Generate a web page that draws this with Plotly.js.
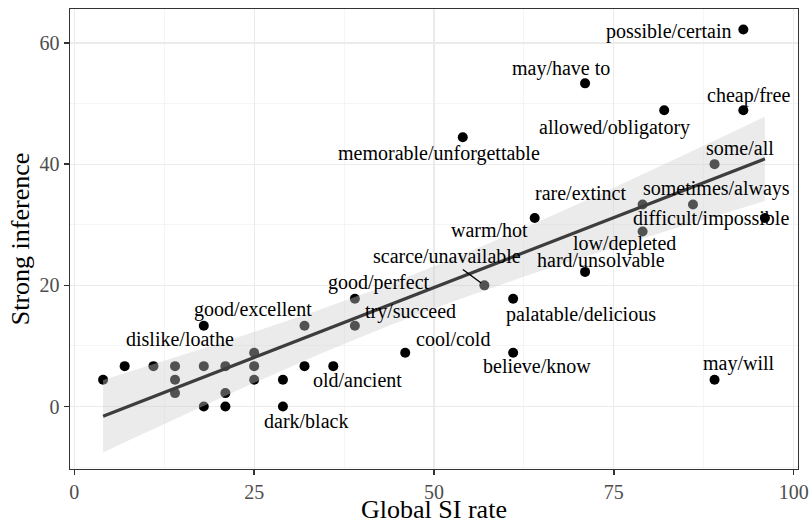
<!DOCTYPE html>
<html>
<head>
<meta charset="utf-8">
<script src="https://cdn.plot.ly/plotly-3.0.1.min.js"></script>
<style>html,body{margin:0;padding:0;background:#fff;}#chart{width:809px;height:524px;}</style>
</head>
<body>
<div id="chart"></div>
<script>
// Global SI rate (x) and Strong inference (y) per scale
const siRate = [4, 7, 11, 14, 14, 14, 18, 18, 18, 21, 21, 21, 25, 25, 25, 29, 29, 32, 32, 36,
  39, 39, 46, 54, 57, 61, 61, 64, 71, 71, 79, 79, 82, 86, 89, 89, 93, 93, 96];
const strongInf = [4.44, 6.67, 6.67, 6.67, 4.44, 2.22, 13.33, 6.67, 0, 6.67, 2.22, 0, 8.89, 6.67, 4.44, 4.44, 0, 13.33, 6.67, 6.67,
  17.78, 13.33, 8.89, 44.44, 20, 17.78, 8.89, 31.11, 53.33, 22.22, 33.33, 28.89, 48.89, 33.33, 40, 4.44, 62.22, 48.89, 31.11];
const scaleNames = ["", "", "dislike/loathe", "", "", "", "good/excellent", "", "", "", "", "", "", "", "", "", "dark/black", "", "", "old/ancient",
  "good/perfect", "try/succeed", "cool/cold", "memorable/unforgettable", "scarce/unavailable", "palatable/delicious", "believe/know", "warm/hot", "may/have to", "hard/unsolvable",
  "rare/extinct", "low/depleted", "allowed/obligatory", "sometimes/always", "some/all", "may/will", "possible/certain", "cheap/free", "difficult/impossible"];
const xTicks = [0, 25, 50, 75, 100];
const yTicks = [0, 20, 40, 60];

// label offsets in pixels (right, down) relative to each point, as placed by the repel layout
const labelDx = [0, 0, 26.5, 0, 0, 0, 49.5, 0, 0, 0, 0, 0, 0, 0, 0, 0, 23.2, 0, 0, 24.5,
  24, 55.8, 47.8, -24, -37.3, 68, 23.5, -45, -24, 16.3,
  -62.5, -18.5, -50, 23.8, 25.4, 24, -74.6, 5, -53.8];
const labelDy = [0, 0, -25, 0, 0, 0, -14.3, 0, 0, 0, 0, 0, 0, 0, 0, 0, 16.6, 0, 0, 16,
  -14.3, -12.7, -12, 18, -27.7, 17.4, 15.6, 13.7, -13, -9.5,
  -10, 14, 19, -14, -14, -14.5, 4, -12.5, 2.7];

// ---- linear fit with 95% confidence band ----
const n = siRate.length;
const mx = siRate.reduce((a, b) => a + b, 0) / n;
const my = strongInf.reduce((a, b) => a + b, 0) / n;
let sxx = 0, sxy = 0;
for (let i = 0; i < n; i++) { sxx += (siRate[i] - mx) ** 2; sxy += (siRate[i] - mx) * (strongInf[i] - my); }
const slope = sxy / sxx, intercept = my - slope * mx;
let sse = 0;
for (let i = 0; i < n; i++) sse += (strongInf[i] - intercept - slope * siRate[i]) ** 2;
const s = Math.sqrt(sse / (n - 2));
function tQuant(df) {
  const z = 1.959964;
  return z + (z ** 3 + z) / (4 * df) + (5 * z ** 5 + 16 * z ** 3 + 3 * z) / (96 * df * df)
    + (3 * z ** 7 + 19 * z ** 5 + 17 * z ** 3 - 15 * z) / (384 * df ** 3);
}
const tq = tQuant(n - 2);
const xmin = Math.min(...siRate), xmax = Math.max(...siRate);
const fx = [], fy = [], lo = [], hi = [];
for (let k = 0; k <= 80; k++) {
  const xv = xmin + (xmax - xmin) * k / 80;
  const yv = intercept + slope * xv;
  const se = s * Math.sqrt(1 / n + (xv - mx) ** 2 / sxx);
  fx.push(xv); fy.push(yv); lo.push(yv - tq * se); hi.push(yv + tq * se);
}

const serif = "'Liberation Serif', 'Times New Roman', serif";
const labelLift = 2; // small global vertical correction in px

const traces = [
  { x: siRate, y: strongInf, type: "scatter", mode: "markers", marker: { color: "#000", size: 10 }, hoverinfo: "skip" },
  { x: fx.concat(fx.slice().reverse()), y: hi.concat(lo.slice().reverse()), type: "scatter", mode: "lines",
    fill: "toself", fillcolor: "rgba(205,205,205,0.4)", line: { width: 0, color: "rgba(0,0,0,0)" }, hoverinfo: "skip" },
  { x: fx, y: fy, type: "scatter", mode: "lines", line: { color: "#3d3d3d", width: 3.2 }, hoverinfo: "skip" }
];

const annotations = [];
for (let i = 0; i < n; i++) {
  if (!scaleNames[i]) continue;
  annotations.push({ x: siRate[i], y: strongInf[i], xref: "x", yref: "y", text: scaleNames[i], showarrow: false,
    xanchor: "center", yanchor: "middle", xshift: labelDx[i], yshift: -labelDy[i] + labelLift,
    font: { family: serif, size: 20, color: "#000" } });
}
// repel segment for scarce/unavailable
const iScarce = scaleNames.indexOf("scarce/unavailable");
annotations.push({ x: siRate[iScarce], y: strongInf[iScarce], xref: "x", yref: "y", text: "", showarrow: true,
  arrowhead: 0, arrowwidth: 1.4, arrowcolor: "#000", ax: -23, ay: -17, standoff: 4 });

const axisCommon = {
  showline: true, mirror: true, linecolor: "#333", linewidth: 1.4,
  ticks: "outside", ticklen: 5, tickwidth: 1.4, tickcolor: "#333",
  showgrid: true, gridcolor: "#ebebeb", gridwidth: 1.3, zeroline: false,
  tickfont: { family: serif, size: 20, color: "#4d4d4d" }
};

const layout = {
  width: 809, height: 524,
  margin: { l: 70, r: 11, t: 9, b: 55 },
  paper_bgcolor: "#fff", plot_bgcolor: "#fff",
  showlegend: false,
  font: { family: serif },
  xaxis: Object.assign({}, axisCommon, {
    range: [-0.6, 100.6], tickvals: xTicks, ticktext: xTicks.map(String),
    minor: { tick0: 0, dtick: 12.5, showgrid: true, gridcolor: "#f2f2f2", gridwidth: 0.8, ticks: "" },
    title: { text: "Global SI rate", font: { family: serif, size: 26, color: "#000" }, standoff: 4 }
  }),
  yaxis: Object.assign({}, axisCommon, {
    range: [-10.3, 65.6], tickvals: yTicks, ticktext: yTicks.map(String),
    minor: { tick0: 0, dtick: 10, showgrid: true, gridcolor: "#f2f2f2", gridwidth: 0.8, ticks: "" },
    title: { text: "Strong inference", font: { family: serif, size: 26, color: "#000" }, standoff: 2 }
  }),
  annotations: annotations
};

Plotly.newPlot("chart", traces, layout, { displayModeBar: false, staticPlot: true });
</script>
</body>
</html>
